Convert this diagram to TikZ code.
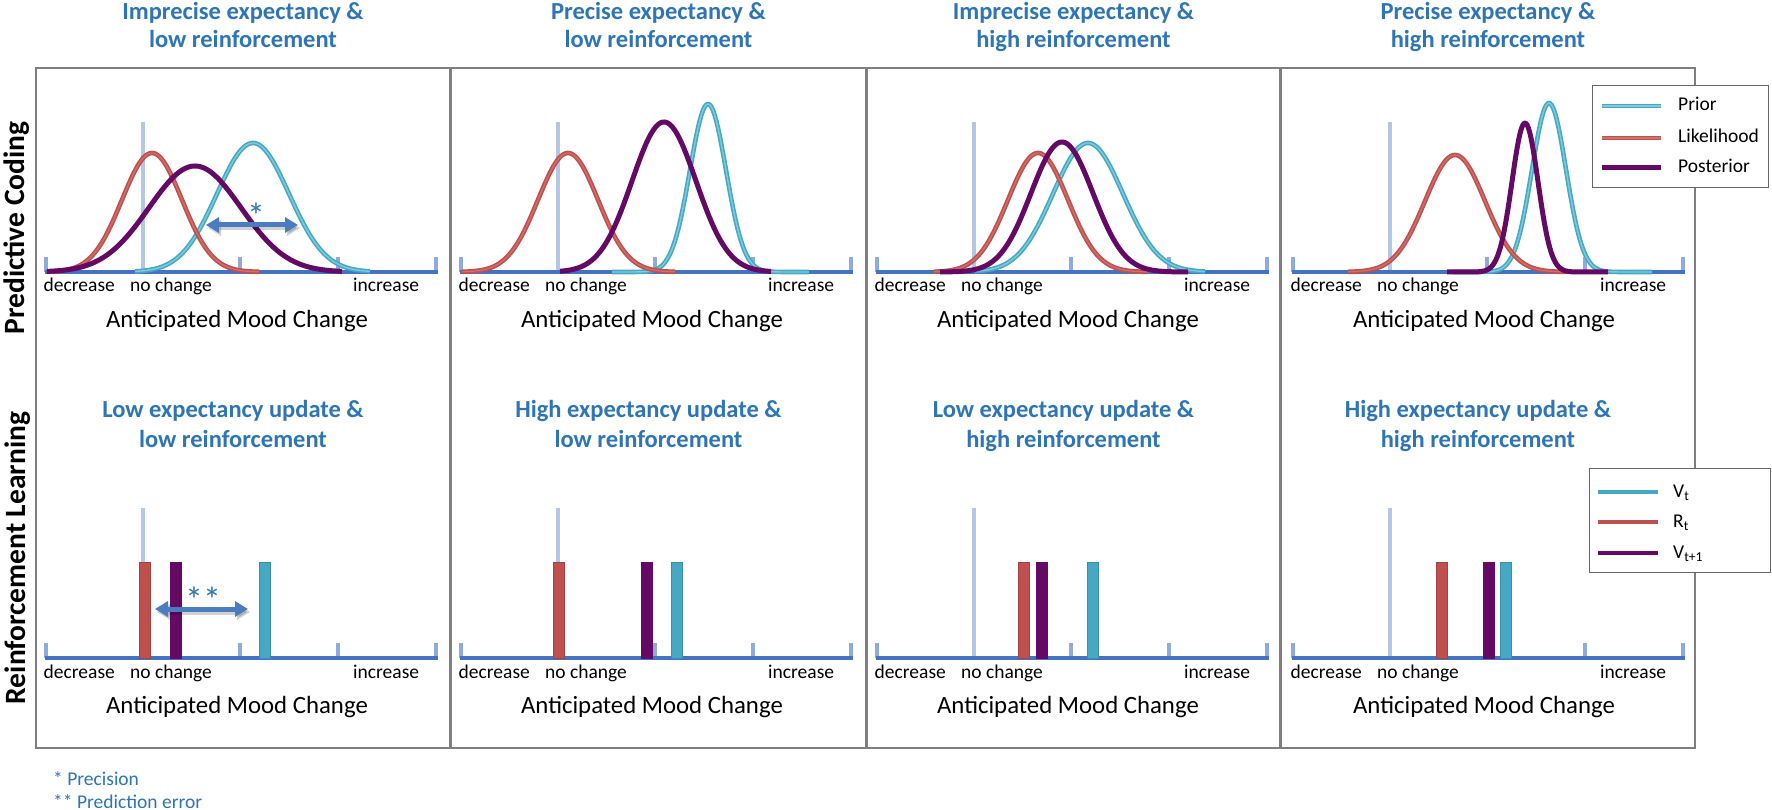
\documentclass[tikz,border=0pt]{standalone}
\usepackage{fontspec}
\setmainfont{Carlito}
\usetikzlibrary{arrows.meta}
\definecolor{tblue}{HTML}{2E75B6}
\definecolor{axblue}{HTML}{4472C4}
\definecolor{tickblue}{HTML}{8FAADC}
\definecolor{ncblue}{HTML}{B4C7E7}
\definecolor{tealA}{HTML}{45A9C4}
\definecolor{tealB}{HTML}{7FCADD}
\definecolor{redA}{HTML}{C0504D}
\definecolor{redB}{HTML}{D0716D}
\definecolor{purp}{HTML}{640A64}
\definecolor{framegray}{HTML}{7F7F7F}
\definecolor{arrblue}{HTML}{4A7CC0}
\newcommand\gcurve[6]{\draw[#1] plot[domain=#5:#6, samples=120] (\x,{272-#4*exp(-0.5*(((\x-#2)/#3)^2))});}
\newcommand\rlbar[2]{\draw[#1] ({#2-5.5},562) rectangle ({#2+5.5},658);}
\begin{document}
\begin{tikzpicture}[x=1pt,y=-1pt,
  panelbox/.style={draw=framegray, line width=2pt},
  ttl/.style={font=\bfseries\fontsize{24.5}{28}\selectfont, text=tblue, anchor=base, inner sep=0},
  rowlab/.style={font=\bfseries\fontsize{29.5}{32}\selectfont, rotate=90, anchor=base, inner sep=0},
  axlab/.style={font=\fontsize{19.5}{22}\selectfont, anchor=base west, inner sep=0},
  axtitle/.style={font=\fontsize{24.8}{28}\selectfont, anchor=base, inner sep=0},
  leglab/.style={font=\fontsize{19.5}{22}\selectfont, anchor=base west, inner sep=0},
  foot/.style={font=\fontsize{19.5}{22}\selectfont, text=tblue, anchor=base west, inner sep=0},
  starlab/.style={font=\fontsize{36}{38}\selectfont, text=tblue, anchor=base, inner sep=0},
  axisline/.style={draw=axblue, line width=4pt},
  tickline/.style={draw=tickblue, line width=3.5pt},
  ncline/.style={draw=ncblue, line width=4pt},
  priorc/.style={draw=tealA, line width=1.6pt, double=tealB, double distance=1.4pt, line join=round},
  likec/.style={draw=redA, line width=1.7pt, double=redB, double distance=1.2pt, line join=round},
  postc/.style={draw=purp, line width=5pt, line join=round},
  redbar/.style={fill=redA, draw=redA!85!black, line width=0.8pt},
  purpbar/.style={fill=purp, draw=purp, line width=0.8pt},
  tealbar/.style={fill=tealA, draw=tealA!85!black, line width=0.8pt},
  legbox/.style={draw=black!60, line width=1.3pt, fill=white},
  dbarrow/.style={draw=arrblue, line width=5pt, {Triangle[length=13pt,width=15pt]}-{Triangle[length=13pt,width=15pt]}},
  dbshadow/.style={draw=black, opacity=0.18, line width=5pt, {Triangle[length=13pt,width=15pt]}-{Triangle[length=13pt,width=15pt]}}
]
\useasboundingbox (0,0) rectangle (1772,810);
\fill[white] (0,0) rectangle (1772,810);

% panel frames
\foreach \a/\b in {36/450,451/866,867/1280,1281/1695}
  \draw[panelbox] (\a,68) rectangle (\b,748);

% row labels
\node[rowlab] (pc) at (24,228) {Predictive Coding};
\node[rowlab] (rl) at (25,558) {Reinforcement Learning};

% titles, axes, labels
\foreach \i/\L/\C/\ta/\tb/\ba/\bb in {
  1/36/243/Imprecise expectancy \&/low reinforcement/Low expectancy update \&/low reinforcement,
  2/451/658.5/Precise expectancy \&/low reinforcement/High expectancy update \&/low reinforcement,
  3/867/1073.5/Imprecise expectancy \&/high reinforcement/Low expectancy update \&/high reinforcement,
  4/1283/1488/Precise expectancy \&/high reinforcement/High expectancy update \&/high reinforcement}{
  \node[ttl] (ta\i) at (\C,20) {\ta};
  \node[ttl] (tb\i) at (\C,48) {\tb};
  \node[ttl] (ba\i) at (\C-10,417) {\ba};
  \node[ttl] (bb\i) at (\C-10,447) {\bb};
  \begin{scope}[shift={(\L,0)}]
    \foreach \yy/\ytop in {272/122,658/508}{
      \draw[ncline] (107,\ytop) -- (107,\yy);
      \foreach \t in {10,204,302,400} \draw[tickline] (\t,\yy-15) -- (\t,\yy);
      \draw[axisline] (9,\yy) -- (402,\yy);
    }
    \node[axlab] (decT\i) at (7.5,292) {decrease};
    \node[axlab] (ncT\i) at (94,292) {no change};
    \node[axlab] (incT\i) at (317,292) {increase};
    \node[axtitle] (amT\i) at (201,327) {Anticipated Mood Change};
    \node[axlab] (decB\i) at (7.5,678) {decrease};
    \node[axlab] (ncB\i) at (94,678) {no change};
    \node[axlab] (incB\i) at (317,678) {increase};
    \node[axtitle] (amB\i) at (201,713) {Anticipated Mood Change};
  \end{scope}
}

% ---- Predictive coding curves ----
\begin{scope}[shift={(36,0)}]
  \gcurve{priorc}{217}{36}{129}{99}{334}
  \gcurve{likec}{116}{30}{119}{11}{223}
  \gcurve{postc}{159}{46}{106}{11}{306}
\end{scope}
\begin{scope}[shift={(451,0)}]
  \gcurve{priorc}{257}{18}{168}{161}{358}
  \gcurve{likec}{117}{30}{119}{11}{224}
  \gcurve{postc}{213}{32}{150}{109}{320}
\end{scope}
\begin{scope}[shift={(867,0)}]
  \gcurve{priorc}{221}{35}{129}{108}{338}
  \gcurve{likec}{171}{30}{119}{67}{281}
  \gcurve{postc}{195}{31}{130}{73}{321}
\end{scope}
\begin{scope}[shift={(1283,0)}]
  \gcurve{priorc}{266}{17}{169}{170}{369}
  \gcurve{likec}{172}{30}{117}{65}{284}
  \gcurve{postc}{242}{13}{149}{164}{325}
\end{scope}

% ---- Reinforcement learning bars ----
\begin{scope}[shift={(36,0)}]
  \rlbar{redbar}{109} \rlbar{purpbar}{140} \rlbar{tealbar}{229}
\end{scope}
\begin{scope}[shift={(451,0)}]
  \rlbar{redbar}{108} \rlbar{purpbar}{196} \rlbar{tealbar}{226}
\end{scope}
\begin{scope}[shift={(867,0)}]
  \rlbar{redbar}{157} \rlbar{purpbar}{175} \rlbar{tealbar}{226}
\end{scope}
\begin{scope}[shift={(1283,0)}]
  \rlbar{redbar}{159} \rlbar{purpbar}{206} \rlbar{tealbar}{223}
\end{scope}

% ---- double arrows ----
\coordinate (pa1) at (206,225);
\coordinate (pa2) at (298,225);
\coordinate (ra1) at (155,609);
\coordinate (ra2) at (248,609);
\draw[dbshadow] ([shift={(2,3)}]pa1) -- ([shift={(2,3)}]pa2);
\draw[dbarrow] (pa1) -- (pa2);
\draw[dbshadow] ([shift={(2,3)}]ra1) -- ([shift={(2,3)}]ra2);
\draw[dbarrow] (ra1) -- (ra2);
\node[starlab] (st1) at (256,229) {*};
\node[starlab] (st2) at (203,612) {**};

% ---- legends ----
\node[legbox, minimum width=176pt, minimum height=102pt, anchor=north west, inner sep=0] (legA) at (1592,85) {};
\draw[priorc] (1602,106) -- (1661,106);
\node[leglab] (lgPrior) at (1678,111) {Prior};
\draw[likec] (1602,138) -- (1661,138);
\node[leglab] (lgLike) at (1678,143) {Likelihood};
\draw[postc] (1602,168) -- (1661,168);
\node[leglab] (lgPost) at (1678,173) {Posterior};

\node[legbox, minimum width=181pt, minimum height=104pt, anchor=north west, inner sep=0] (legB) at (1589,468) {};
\draw[tealA, line width=4.5pt] (1598,492) -- (1658,492);
\node[leglab] (lgV) at (1673,497) {V\textsubscript{t}};
\draw[redA, line width=4.5pt] (1598,522) -- (1658,522);
\node[leglab] (lgR) at (1673,527) {R\textsubscript{t}};
\draw[purp, line width=4.5pt] (1598,553) -- (1658,553);
\node[leglab] (lgV1) at (1673,558) {V\textsubscript{t+1}};

% ---- footnotes ----
\node[foot] (fn1) at (53,785) {* Precision};
\node[foot] (fn2) at (53,808) {** Prediction error};
\end{tikzpicture}
\end{document}
